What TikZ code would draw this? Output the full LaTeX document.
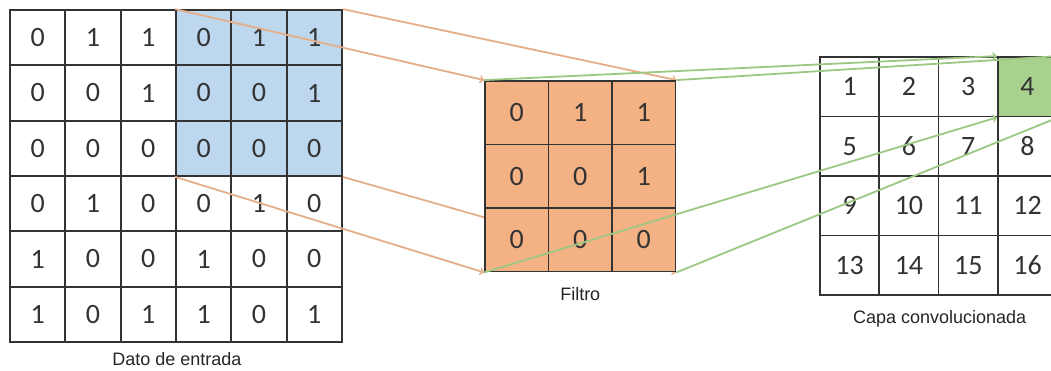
\documentclass[tikz,border=0pt]{standalone}
\usepackage{fontspec}
\usepackage{xcolor}
\usepackage{tikz}
\usetikzlibrary{positioning}
\setmainfont{Liberation Sans}
\newfontfamily\numfont{Carlito}

\definecolor{inblue}{HTML}{BDD7EE}
\definecolor{filtorange}{HTML}{F4B183}
\definecolor{outgreen}{HTML}{A9D18E}
\definecolor{orangeline}{HTML}{E6AE88}
\definecolor{greenline}{HTML}{9DC884}
\definecolor{gridgray}{HTML}{333333}

\pgfdeclarelayer{front}
\pgfdeclarelayer{top}
\pgfsetlayers{main,front,top}

\begin{document}
\begin{tikzpicture}[x=1pt,y=-1pt,
  cell/.style={draw=gridgray,line width=1.8pt,inner sep=0pt,font=\numfont\fontsize{28}{30}\selectfont,text=black!80},
  incell/.style={cell,minimum size=55.33pt},
  filtcell/.style={cell,minimum size=63.5pt,fill=filtorange},
  outcell/.style={cell,minimum size=59.5pt},
  caption/.style={font=\fontsize{18}{20}\selectfont,text=black!85},
  ocon/.style={orangeline,line width=1.8pt,->},
  gcon/.style={greenline,line width=1.8pt,->}]
\useasboundingbox (0,0) rectangle (1051,370);
\clip (0,0) rectangle (1051,370);
\fill[white] (0,0) rectangle (1051,370);

% input matrix, 3x3 window in blue
\foreach \row [count=\r from 0] in {{0,1,1,0,1,1},{0,0,1,0,0,1},{0,0,0,0,0,0},{0,1,0,0,1,0},{1,0,0,1,0,0},{1,0,1,1,0,1}}
  \foreach \v [count=\c from 0] in \row {
    \def\bg{white}
    \ifnum\c>2 \ifnum\r<3 \def\bg{inblue}\fi\fi
    \node[incell,fill=\bg] (in-\r-\c) at ({10+55.33*(\c+0.5)},{10+55.33*(\r+0.5)}) {\v};
  }
\node[caption,below=6pt of in-5-2.south east] (incap) {Dato de entrada};

% filter, kept above the window lines
\begin{pgfonlayer}{front}
\foreach \row [count=\r from 0] in {{0,1,1},{0,0,1},{0,0,0}}
  \foreach \v [count=\c from 0] in \row
    \node[filtcell] (fl-\r-\c) at ({485+63.5*(\c+0.5)},{81+63.5*(\r+0.5)}) {\v};
\end{pgfonlayer}
\node[caption,below=12pt of fl-2-1.south] (flcap) {Filtro};

% window -> filter
\draw[ocon] (in-0-3.north west) -- (fl-0-0.north west);
\draw[ocon] (in-0-5.north east) -- (fl-0-2.north east);
\draw[ocon] (in-2-3.south west) -- (fl-2-0.south west);
\draw[ocon] (in-2-5.south east) -- (fl-2-2.south east);

% convolved layer
\foreach \row [count=\r from 0] in {{1,2,3,4},{5,6,7,8},{9,10,11,12},{13,14,15,16}}
  \foreach \v [count=\c from 0] in \row {
    \def\bg{white}
    \ifnum\c=3 \ifnum\r=0 \def\bg{outgreen}\fi\fi
    \node[outcell,fill=\bg] (out-\r-\c) at ({820+59.3*(\c+0.5)},{57+59.5*(\r+0.5)}) {\v};
  }
\node[caption,below=11pt of out-3-1.south east] (outcap) {Capa convolucionada};

% filter -> output cell
\begin{pgfonlayer}{top}
\draw[gcon] (fl-0-0.north west) -- (out-0-3.north west);
\draw[gcon] (fl-0-2.north east) -- (out-0-3.north east);
\draw[gcon] (fl-2-0.south west) -- (out-0-3.south west);
\draw[gcon] (fl-2-2.south east) -- (out-0-3.south east);
\end{pgfonlayer}
\end{tikzpicture}
\end{document}
